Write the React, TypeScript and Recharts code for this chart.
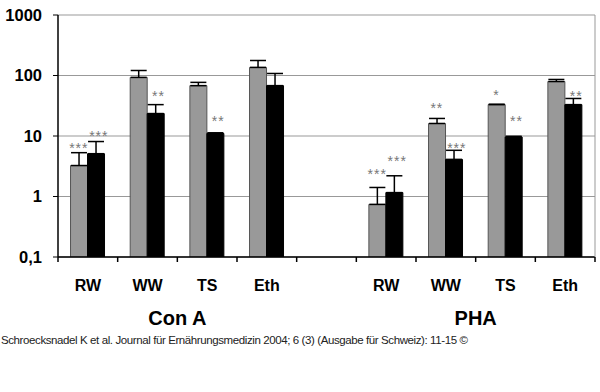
import React from 'react';
import { ComposedChart, Bar, Scatter, XAxis, YAxis, CartesianGrid, ErrorBar } from 'recharts';

const categories = ['RW', 'WW', 'TS', 'Eth', '', 'RW', 'WW', 'TS', 'Eth'];
const grayValues = [3.25, 93, 68, 136, null, 0.74, 16.1, 33, 79.5];
const grayErrTop = [5.3, 121, 77, 177, null, 1.41, 19.5, 33.5, 86];
const blackValues = [5.1, 23.5, 11, 68, null, 1.16, 4.1, 9.6, 33];
const blackErrTop = [8.1, 33, 11.3, 108, null, 2.2, 5.8, 9.9, 41.7];
const grayStars = ['***', '', '', '', '', '***', '**', '*', ''];
const grayStarPos = [7, null, null, null, null, 2.6, 33, 54, null];
const blackStars = ['***', '**', '**', '', '', '***', '***', '**', '**'];
const blackStarPos = [11.4, 52, 19.5, null, null, 4.4, 7, 19.5, 52];
const yTicks = [0.1, 1, 10, 100, 1000];
// group label placed after the category at this index (centre of its 4 categories)
const groupLabelAfter: Record<number, string> = { 1: 'Con A', 6: 'PHA' };
const footer = 'Schroecksnadel K et al. Journal für Ernährungsmedizin 2004; 6 (3) (Ausgabe für Schweiz): 11-15 ©';

const data = categories.map((name, i) => ({
  i,
  name,
  gray: grayValues[i],
  grayErr: grayValues[i] == null ? null : [0, (grayErrTop[i] as number) - (grayValues[i] as number)],
  black: blackValues[i],
  blackErr: blackValues[i] == null ? null : [0, (blackErrTop[i] as number) - (blackValues[i] as number)],
  gStar: grayStars[i],
  gStarPos: grayStarPos[i],
  bStar: blackStars[i],
  bStarPos: blackStarPos[i],
}));

const FONT = 'Arial, "Liberation Sans", Helvetica, sans-serif';

const makeStar = (key: 'gStar' | 'bStar', dx: number) => (props: any) => {
  const { cx, cy, payload } = props;
  if (cx == null || cy == null || !payload || !payload[key]) return <g />;
  return (
    <text x={cx + dx} y={cy + 8} textAnchor="middle" fontFamily={FONT} fontSize={14} fill="#777" letterSpacing={1}>
      {payload[key]}
    </text>
  );
};

const CatTick = (props: any) => {
  const { x, y, payload } = props;
  const idx = payload.index ?? payload.value;
  const half = payload.offset ?? 29.8;
  const last = idx === categories.length - 1;
  const grp = groupLabelAfter[idx];
  return (
    <g>
      <line x1={x - half} x2={x - half} y1={y} y2={y + 5} stroke="#000" strokeWidth={1.5} />
      {last && <line x1={x + half} x2={x + half} y1={y} y2={y + 5} stroke="#000" strokeWidth={1.5} />}
      <text x={x} y={y + 33.5} textAnchor="middle" fontFamily={FONT} fontSize={16} fontWeight="bold" fill="#000">
        {categories[idx]}
      </text>
      {grp && (
        <text x={x + half} y={y + 68} textAnchor="middle" fontFamily={FONT} fontSize={20} fontWeight="bold" fill="#000">
          {grp}
        </text>
      )}
    </g>
  );
};

const fmtY = (v: number) => (v === 0.1 ? '0,1' : String(v));

export default function App() {
  return (
    <div style={{ position: 'absolute', left: 0, top: 0, width: 600, height: 392, background: '#fff' }}>
      <ComposedChart
        width={600}
        height={392}
        data={data}
        margin={{ top: 15, right: 0, left: 0, bottom: 55 }}
        barCategoryGap="21%"
        barGap={0}
      >
        <CartesianGrid vertical={false} stroke="#999" strokeWidth={1} />
        <XAxis
          dataKey="i"
          type="category"
          height={80}
          axisLine={{ stroke: '#000', strokeWidth: 1.5 }}
          tickLine={false}
          tickSize={0}
          tickMargin={0}
          interval={0}
          tick={<CatTick />}
        />
        <YAxis
          scale="log"
          domain={[0.1, 1000]}
          ticks={yTicks}
          allowDataOverflow
          width={58}
          tickSize={5}
          tickMargin={11}
          tickFormatter={fmtY}
          axisLine={{ stroke: '#000', strokeWidth: 1.5 }}
          tickLine={{ stroke: '#000' }}
          tick={{ fontFamily: FONT, fontSize: 16.5, fontWeight: 'bold', fill: '#000' }}
        />
        <YAxis
          yAxisId="r"
          orientation="right"
          scale="log"
          domain={[0.1, 1000]}
          ticks={yTicks}
          allowDataOverflow
          width={5}
          tick={false}
          tickLine={false}
          axisLine={{ stroke: '#999' }}
        />
        <Bar dataKey="gray" fill="#999999" stroke="#555" strokeWidth={1} isAnimationActive={false}>
          <ErrorBar dataKey="grayErr" width={8} stroke="#000" strokeWidth={1.5} direction="y" />
        </Bar>
        <Bar dataKey="black" fill="#000" stroke="#000" strokeWidth={1} isAnimationActive={false}>
          <ErrorBar dataKey="blackErr" width={8} stroke="#000" strokeWidth={1.5} direction="y" />
        </Bar>
        <Scatter dataKey="gStarPos" shape={makeStar('gStar', -9)} isAnimationActive={false} />
        <Scatter dataKey="bStarPos" shape={makeStar('bStar', 11)} isAnimationActive={false} />
      </ComposedChart>
      <div
        style={{
          position: 'absolute',
          left: 1,
          top: 334,
          fontFamily: FONT,
          fontSize: 11.5,
          letterSpacing: -0.4,
          color: '#222',
          whiteSpace: 'nowrap',
        }}
      >
        {footer}
      </div>
    </div>
  );
}
